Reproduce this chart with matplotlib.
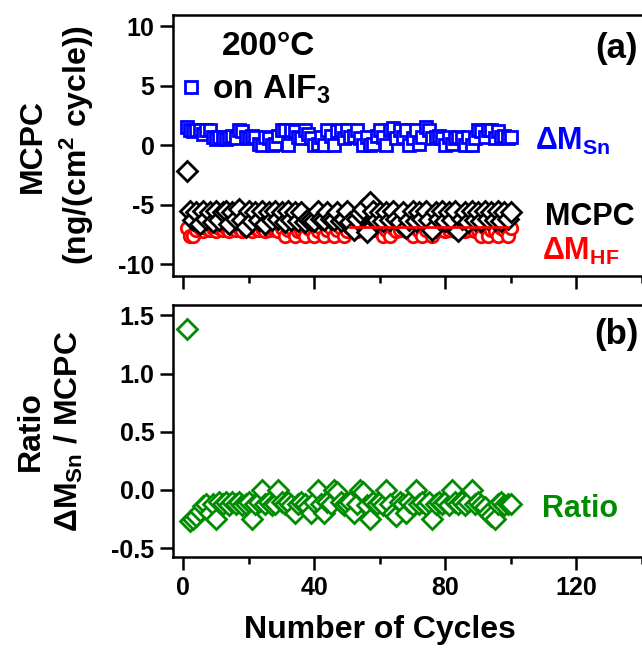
import numpy as np
import matplotlib.pyplot as plt
from matplotlib.ticker import MultipleLocator

plt.rcParams['font.family'] = ['Liberation Sans', 'DejaVu Sans']
plt.rcParams['font.weight'] = 'bold'
plt.rcParams['axes.labelweight'] = 'bold'
plt.rcParams['axes.unicode_minus'] = False
plt.rcParams['mathtext.fontset'] = 'custom'
plt.rcParams['mathtext.rm'] = 'Liberation Sans:bold'
plt.rcParams['mathtext.bf'] = 'Liberation Sans:bold'
plt.rcParams['mathtext.it'] = 'Liberation Sans:bold'
plt.rcParams['mathtext.default'] = 'bf'

cycles = np.arange(1, 101)

# mass change per cycle from Sn(acac)2 exposure, ng/(cm^2 cycle)
dm_sn = [
    1.5, 1.3, 1.2, 1.3, 1.3, 0.9, 1.3, 1.3, 0.7, 0.5,
    0.7, 0.6, 0.5, 0.7, 0.8, 0.6, 1.3, 1.2, 0.7, 0.6,
    0.8, 0.7, 0.1, 0.0, 0.7, 0.6, 0.0, 0.1, 0.8, 1.3,
    1.3, 0.0, 1.3, 1.2, 0.7, 0.6, 1.3, 0.9, 0.6, 0.0,
    0.1, 0.7, 0.0, 1.3, 0.8, 0.0, 1.2, 1.3, 0.6, 1.3,
    0.7, 0.8, 1.3, 0.6, 0.0, 0.7, 0.0, 0.1, 0.8, 1.3,
    0.7, 0.0, 1.3, 1.4, 0.6, 1.3, 0.7, 1.3, 0.0, 0.6,
    1.3, 0.1, 0.7, 1.5, 1.3, 0.6, 0.7, 0.8, 0.6, 0.0,
    0.7, 0.1, 0.6, 0.7, 0.6, 0.0, 0.7, 0.0, 0.6, 1.3,
    1.2, 0.7, 1.3, 1.3, 0.6, 1.2, 0.7, 0.8, 0.6, 0.7]

# mass change per cycle from HF exposure
dm_hf = [
    -7.0, -7.6, -7.6, -7.1, -7.0, -7.2, -7.0, -7.1, -7.0, -7.2,
    -7.0, -7.1, -7.0, -7.2, -7.0, -7.1, -7.0, -7.2, -7.1, -7.0,
    -7.2, -7.0, -7.1, -7.0, -7.2, -7.1, -7.0, -7.1, -7.2, -7.0,
    -7.6, -7.1, -7.0, -7.6, -7.2, -7.1, -7.6, -7.0, -7.1, -7.6,
    -7.2, -7.0, -7.6, -7.1, -7.0, -7.6, -7.1, -7.0, -7.6, -7.2,
    -7.0, -7.1, -7.2, -7.0, -7.1, -7.2, -7.0, -7.1, -7.0, -7.2,
    -7.6, -7.1, -7.6, -7.0, -7.2, -7.1, -7.0, -7.2, -7.1, -7.6,
    -7.0, -7.2, -7.6, -7.1, -7.0, -7.6, -7.2, -7.1, -7.0, -7.2,
    -7.1, -7.0, -7.2, -7.1, -7.0, -7.2, -7.1, -7.0, -7.2, -7.1,
    -7.6, -7.0, -7.6, -7.1, -7.2, -7.6, -7.0, -7.1, -7.6, -7.0]

# total mass change per cycle
mcpc = [
    -2.2, -5.5, -6.3, -5.6, -6.6, -5.5, -6.2, -5.6, -6.5, -5.5,
    -6.3, -5.6, -5.5, -6.6, -5.6, -6.2, -5.4, -6.3, -6.9, -5.5,
    -6.4, -5.6, -6.3, -5.5, -6.6, -5.6, -6.3, -5.5, -6.2, -5.6,
    -6.5, -5.5, -6.3, -5.6, -6.4, -5.6, -6.5, -6.2, -6.3, -6.4,
    -5.5, -6.2, -6.3, -5.6, -6.2, -6.3, -5.6, -6.4, -6.2, -5.5,
    -6.5, -7.1, -6.2, -5.7, -5.4, -7.3, -4.8, -5.5, -6.3, -5.6,
    -6.4, -5.6, -6.3, -5.5, -6.2, -6.5, -5.6, -7.0, -6.3, -5.5,
    -6.4, -5.6, -6.2, -5.5, -6.3, -7.1, -5.6, -6.2, -5.5, -6.4,
    -5.6, -6.3, -5.5, -7.2, -6.2, -5.6, -6.5, -5.5, -6.3, -5.6,
    -6.4, -5.5, -6.2, -5.6, -6.3, -5.5, -6.4, -5.6, -6.2, -5.6]

# average HF mass change over the steady state cycles
hf_avg_cycles = [51, 99]
hf_avg_value = -6.9

ratio = [
    1.38, -0.27, -0.25, -0.22, -0.18, -0.14, -0.12, -0.20, -0.12, -0.25,
    -0.10, -0.12, -0.10, -0.13, -0.10, -0.12, -0.10, -0.13, -0.12, -0.10,
    -0.25, -0.12, -0.10, 0.00, -0.12, -0.10, -0.13, -0.12, 0.00, -0.10,
    -0.12, -0.10, -0.13, -0.20, -0.12, -0.10, -0.12, -0.15, -0.20, -0.10,
    0.00, -0.12, -0.20, -0.10, -0.12, 0.00, -0.02, -0.10, -0.13, -0.12,
    -0.10, -0.20, -0.12, 0.00, -0.02, -0.13, -0.25, -0.10, -0.12, -0.10,
    -0.13, 0.00, -0.12, -0.20, -0.22, -0.10, -0.12, -0.20, -0.10, -0.13,
    0.00, -0.12, -0.10, -0.13, -0.10, -0.25, -0.12, -0.10, -0.12, -0.10,
    -0.13, 0.00, -0.10, -0.12, -0.10, -0.13, -0.10, 0.00, -0.12, -0.10,
    -0.13, -0.15, -0.20, -0.22, -0.25, -0.12, -0.10, -0.13, -0.12, -0.12]

blue = '#0000ff'
red = '#ff0000'
green = '#008c00'
fs_tick = 18
fs_lab = 23
fs_txt = 22

fig = plt.figure(figsize=(6.42, 6.54), dpi=100)
ax1 = fig.add_axes([0.27, 0.578, 0.735, 0.399])
ax2 = fig.add_axes([0.27, 0.148, 0.735, 0.385])


def style(ax):
    for s in ax.spines.values():
        s.set_linewidth(1.8)
    ax.tick_params(which='major', direction='out', length=9.5, width=1.8,
                   labelsize=fs_tick, pad=4)
    ax.tick_params(which='minor', direction='out', length=5, width=1.8)
    ax.tick_params(axis='y', which='minor', length=0)
    ax.xaxis.set_major_locator(MultipleLocator(40))
    ax.xaxis.set_minor_locator(MultipleLocator(20))
    ax.set_xlim(-3.05, 141)


# panel (a)
mk = dict(linestyle='none', markerfacecolor='white', markeredgewidth=2.0)
ax1.plot(cycles, dm_hf, marker='o', markersize=9, color=red, **mk)
ax1.plot(cycles, mcpc, marker='D', markersize=10, color='black', **mk)
ax1.plot(hf_avg_cycles, [hf_avg_value] * 2, color=red, linewidth=2)
sq, = ax1.plot(cycles, dm_sn, marker='s', markersize=8.5, color=blue, **mk)
ax1.set_ylim(-11.0, 10.93)
ax1.yaxis.set_major_locator(MultipleLocator(5))
style(ax1)
ax1.tick_params(axis='x', labelbottom=False)
ax1.set_ylabel('MCPC\n(ng/(cm$^2$ cycle))', fontsize=fs_lab, labelpad=16,
               linespacing=1.35)

ax1.legend([sq], ['on AlF$_3$'], loc='center left',
           bbox_to_anchor=(0.012, 0.716), frameon=False, fontsize=24,
           handlelength=0.7, handletextpad=0.3, borderaxespad=0, borderpad=0)
ax1.text(0.103, 0.847, '200°C', transform=ax1.transAxes, fontsize=24,
         va='baseline', ha='left')
ax1.text(0.985, 0.87, '(a)', transform=ax1.transAxes, fontsize=25,
         va='center', ha='right')
ax1.text(0.766, 0.483, 'Δ' + r'M$_{Sn}$', transform=ax1.transAxes,
         fontsize=fs_txt, color=blue, va='baseline', ha='left')
ax1.text(0.787, 0.195, 'MCPC', transform=ax1.transAxes, fontsize=fs_txt,
         va='baseline', ha='left')
ax1.text(0.781, 0.061, 'Δ' + r'M$_{HF}$', transform=ax1.transAxes,
         fontsize=fs_txt, color=red, va='baseline', ha='left')

# panel (b)
ax2.plot(cycles, ratio, marker='D', markersize=10, color=green, **mk)
ax2.set_ylim(-0.578, 1.586)
ax2.yaxis.set_major_locator(MultipleLocator(0.5))
ax2.yaxis.set_major_formatter(plt.FormatStrFormatter('%.1f'))
style(ax2)
ax2.set_ylabel('Ratio\nΔ' + r'M$_{Sn}$ / MCPC', fontsize=fs_lab, labelpad=19,
               linespacing=1.3)
ax2.set_xlabel('Number of Cycles', fontsize=fs_lab, labelpad=11)
ax2.xaxis.label.set_x(0.438)
ax2.text(0.985, 0.885, '(b)', transform=ax2.transAxes, fontsize=25,
         va='center', ha='right')
ax2.text(0.781, 0.159, 'Ratio', transform=ax2.transAxes, fontsize=fs_txt,
         color=green, va='baseline', ha='left')

fig.savefig('out.png', dpi=100)
